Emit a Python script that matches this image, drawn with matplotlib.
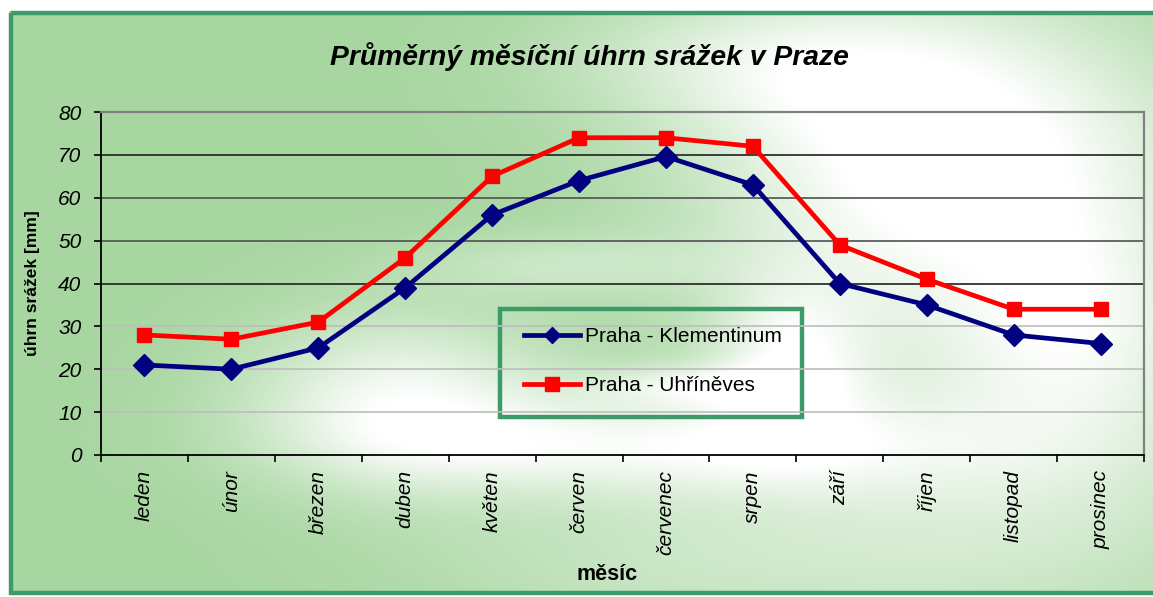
import numpy as np
import matplotlib
matplotlib.use("Agg")
import matplotlib.pyplot as plt
from matplotlib.patches import Rectangle
from matplotlib.ticker import FixedLocator

plt.rcParams['font.family'] = ['Liberation Sans', 'DejaVu Sans']

months = ['leden', 'únor', 'březen', 'duben', 'květen', 'červen',
          'červenec', 'srpen', 'září', 'říjen', 'listopad', 'prosinec']
klementinum = [21, 20, 25, 39, 56, 64, 69.6, 63, 40, 35, 28, 26]
uhrineves = [28, 27, 31, 46, 65, 74, 74, 72, 49, 41, 34, 34]
series_names = ['Praha - Klementinum', 'Praha - Uhříněves']
title = 'Průměrný měsíční úhrn srážek v Praze'
ylabel = 'úhrn srážek [mm]'
xlabel = 'měsíc'
yticks = [0, 10, 20, 30, 40, 50, 60, 70, 80]

W, H = 1153, 597
fig = plt.figure(figsize=(W / 100, H / 100), dpi=100)

# ---- background gradient ----
bg = fig.add_axes([0, 0, 1, 1], zorder=-10)
yy, xx = np.mgrid[0:H, 0:W].astype(float)

def blob(cx, cy, sx, sy, a):
    return a * np.exp(-(((xx - cx) / sx) ** 2 + ((yy - cy) / sy) ** 2) / 2)

w = (blob(950, 160, 170, 110, 1.15)
     + blob(1080, 330, 90, 80, 0.5)
     + blob(400, 400, 110, 60, 0.85)
     + blob(660, 445, 200, 35, 0.75)
     + blob(790, 360, 55, 55, 0.7)
     + blob(690, 385, 70, 14, 0.55)
     + blob(560, 265, 110, 22, 0.35)
     + blob(760, 60, 140, 50, 0.5)
     + blob(1000, 480, 200, 120, 0.55)
     + blob(650, 560, 180, 60, 0.3))
w = np.clip(w, 0, 1)
green = np.array([167, 214, 160]) / 255.0
img = green[None, None, :] * (1 - w[..., None]) + w[..., None]
inside = (xx >= 9) & (yy >= 11) & (yy <= 594)
img[~inside] = 1.0
bg.imshow(img, extent=(0, W, H, 0), aspect='auto', interpolation='bilinear')
bg.set_xlim(0, W)
bg.set_ylim(H, 0)
bg.axis('off')
bg.add_patch(Rectangle((10.5, 12.5), W + 20, 580, fill=False,
                       edgecolor='#3c9b69', linewidth=3.2))

# ---- main axes ----
L, R, T, B = 101, 1144, 112, 455
ax = fig.add_axes([L / W, 1 - B / H, (R - L) / W, (B - T) / H])
ax.patch.set_alpha(0)
x = np.arange(len(months))
ax.set_xlim(-0.5, len(months) - 0.5)
ax.set_ylim(0, 80)

for v in yticks[1:-1]:
    col = {70: '#202020', 60: '#505050', 50: '#505050', 40: '#202020'}.get(v, '#bdbdbd')
    ax.axhline(v, color=col, linewidth=1.2, zorder=1)

ax.plot(x, uhrineves, color='#ff0000', linewidth=3.4, marker='s',
        markersize=9.5, label=series_names[1], zorder=3)
ax.plot(x, klementinum, color='#000080', linewidth=3.4, marker='D',
        markersize=11, label=series_names[0], zorder=4)

ax.set_yticks(yticks)
ax.set_yticklabels([str(v) for v in yticks], fontsize=15, style='italic')
ax.tick_params(axis='y', length=5, width=1.2, pad=9, direction='out')
ax.set_xticks(x)
ax.set_xticklabels(months, rotation=90, fontsize=15, style='italic')
ax.xaxis.set_minor_locator(FixedLocator(np.arange(-0.5, len(months), 1.0)))
ax.tick_params(axis='x', which='major', length=0, pad=11)
ax.tick_params(axis='x', which='minor', length=5, width=1.2, direction='out')

for s in ['left', 'bottom']:
    ax.spines[s].set_color('#000000')
    ax.spines[s].set_linewidth(1.3)
for s in ['top', 'right']:
    ax.spines[s].set_color('#808080')
    ax.spines[s].set_linewidth(1.6)

fig.text(589 / W, 1 - 57 / H, title, fontsize=20.3, fontweight='bold',
         style='italic', ha='center', va='center')
fig.text(33 / W, 1 - 283 / H, ylabel, fontsize=12.5, fontweight='bold',
         rotation=90, ha='center', va='center')
fig.text(607 / W, 1 - 574 / H, xlabel, fontsize=15.5, fontweight='bold',
         ha='center', va='center')

# ---- legend ----
bg.add_patch(Rectangle((499.5, 308.5), 302, 108, fill=False,
                       edgecolor='#3c9b69', linewidth=3.2, zorder=5))
h, lab = ax.get_legend_handles_labels()
leg = fig.legend(h[::-1], lab[::-1], loc='upper left',
                 bbox_to_anchor=(509 / W, 1 - 312.5 / H), frameon=False,
                 fontsize=15, numpoints=1, handlelength=2.7,
                 handletextpad=0.25, labelspacing=1.43, borderpad=0.2)
for lh, ms in zip(leg.legend_handles, [8.5, 9.5]):
    lh.set_markersize(ms)

fig.savefig('out.png', dpi=100)
